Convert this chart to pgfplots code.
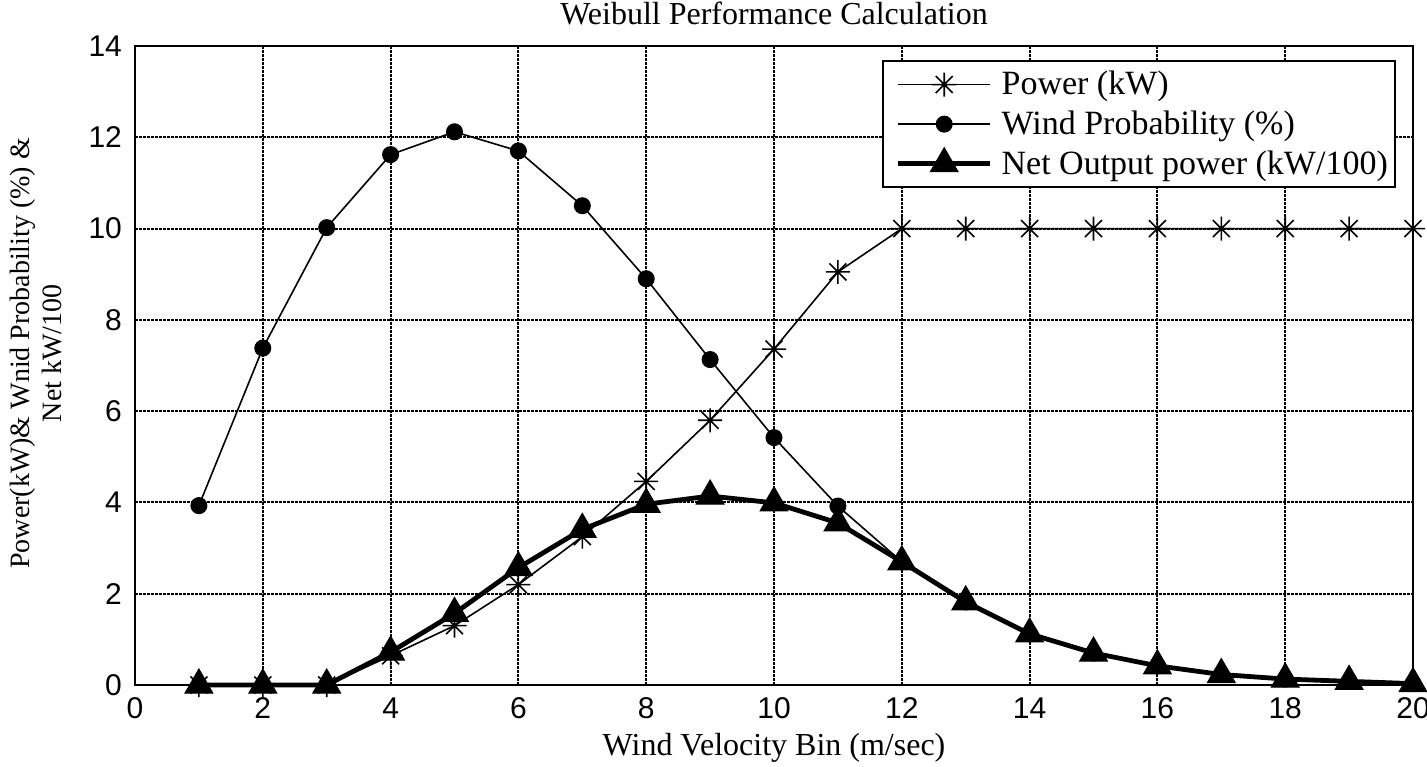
\documentclass[border=0pt]{standalone}
\usepackage{fontspec}
\setmainfont{Liberation Serif}
\newfontfamily\arial{Liberation Sans}
\usepackage{pgfplots}
\pgfplotsset{compat=1.18}
\pgfdeclareplotmark{mstar}{%
 \pgfpathmoveto{\pgfqpoint{-\pgfplotmarksize}{0pt}}\pgfpathlineto{\pgfqpoint{\pgfplotmarksize}{0pt}}%
 \pgfpathmoveto{\pgfqpoint{0pt}{-\pgfplotmarksize}}\pgfpathlineto{\pgfqpoint{0pt}{\pgfplotmarksize}}%
 \pgfpathmoveto{\pgfqpoint{-0.707\pgfplotmarksize}{-0.707\pgfplotmarksize}}\pgfpathlineto{\pgfqpoint{0.707\pgfplotmarksize}{0.707\pgfplotmarksize}}%
 \pgfpathmoveto{\pgfqpoint{-0.707\pgfplotmarksize}{0.707\pgfplotmarksize}}\pgfpathlineto{\pgfqpoint{0.707\pgfplotmarksize}{-0.707\pgfplotmarksize}}%
 \pgfusepathqstroke}
\begin{document}
\begin{tikzpicture}
\useasboundingbox (-67.5pt,-40.5pt) rectangle (646pt,342.5pt);
\begin{axis}[
  scale only axis,
  width=639pt, height=319.5pt,
  xmin=0, xmax=20, ymin=0, ymax=14,
  xtick={0,2,...,20}, ytick={0,2,...,14},
  grid=major,
  major grid style={black, line width=1pt, dash pattern=on 1.5pt off 0.5pt},
  axis line style={line width=1.4pt},
  tick align=inside, major tick length=0pt,
  clip=false,
  /pgf/number format/assume math mode=true,
  ticklabel style={font=\arial\fontsize{15}{16}\selectfont},
  xticklabel style={anchor=base, yshift=-16.5pt},
  yticklabel style={xshift=-3pt},
  title={Weibull Performance Calculation},
  every axis title/.style={at={(axis description cs:0.5,1)}, anchor=base, yshift=10.5pt, font=\fontsize{16}{18}\selectfont},
  xlabel={Wind Velocity Bin (m/sec)},
  every axis x label/.style={at={(axis description cs:0.5,0)}, anchor=base, yshift=-35pt, font=\fontsize{16}{18}\selectfont},
  ylabel={Power(kW)\& Wnid Probability (\%) \&\\Net kW/100},
  every axis y label/.style={at={(axis description cs:-0.0775,0.519)}, rotate=90, anchor=center, align=center, font=\fontsize{14}{16}\selectfont},
  legend image code/.code={\draw[mark repeat=2,mark phase=2] plot coordinates {(0pt,0pt) (23pt,0pt) (46pt,0pt)};},
  legend style={at={(axis description cs:0.9867,0.978)}, anchor=north east, draw=black, line width=1.2pt,
    font=\fontsize{17}{19}\selectfont, inner xsep=6.5pt, inner ysep=3pt, row sep=2.5pt,
    nodes={inner xsep=0pt}, /tikz/every odd column/.append style={column sep=4.5pt}, cells={anchor=west}},
]
\addplot[black, line width=0.8pt, mark=mstar, mark size=6pt, mark options={line width=0.8pt}] coordinates {
(1,0) (2,0) (3,0) (4,0.64) (5,1.3) (6,2.2) (7,3.25) (8,4.46) (9,5.8) (10,7.36) (11,9.05)
(12,10) (13,10) (14,10) (15,10) (16,10) (17,10) (18,10) (19,10) (20,10)};
\addlegendentry{Power (kW)}
\addplot[black, line width=0.8pt, mark=*, mark size=4pt, mark options={fill=black, line width=0.5pt}] coordinates {
(1,3.93) (2,7.38) (3,10.02) (4,11.62) (5,12.12) (6,11.7) (7,10.5) (8,8.9) (9,7.13) (10,5.42) (11,3.92)
(12,2.7) (13,1.82) (14,1.12) (15,0.7) (16,0.42) (17,0.23) (18,0.13) (19,0.08) (20,0.03)};
\addlegendentry{Wind Probability (\%)}
\addplot[black, line width=2.4pt, mark=triangle*, mark size=8pt, mark options={fill=black, line width=0.5pt}] coordinates {
(1,0) (2,0) (3,0) (4,0.72) (5,1.57) (6,2.57) (7,3.41) (8,3.96) (9,4.14) (10,3.99) (11,3.55)
(12,2.7) (13,1.82) (14,1.12) (15,0.7) (16,0.42) (17,0.23) (18,0.13) (19,0.08) (20,0.03)};
\addlegendentry{Net Output power (kW/100)\hspace*{-3pt}}
\end{axis}
\end{tikzpicture}
\end{document}
